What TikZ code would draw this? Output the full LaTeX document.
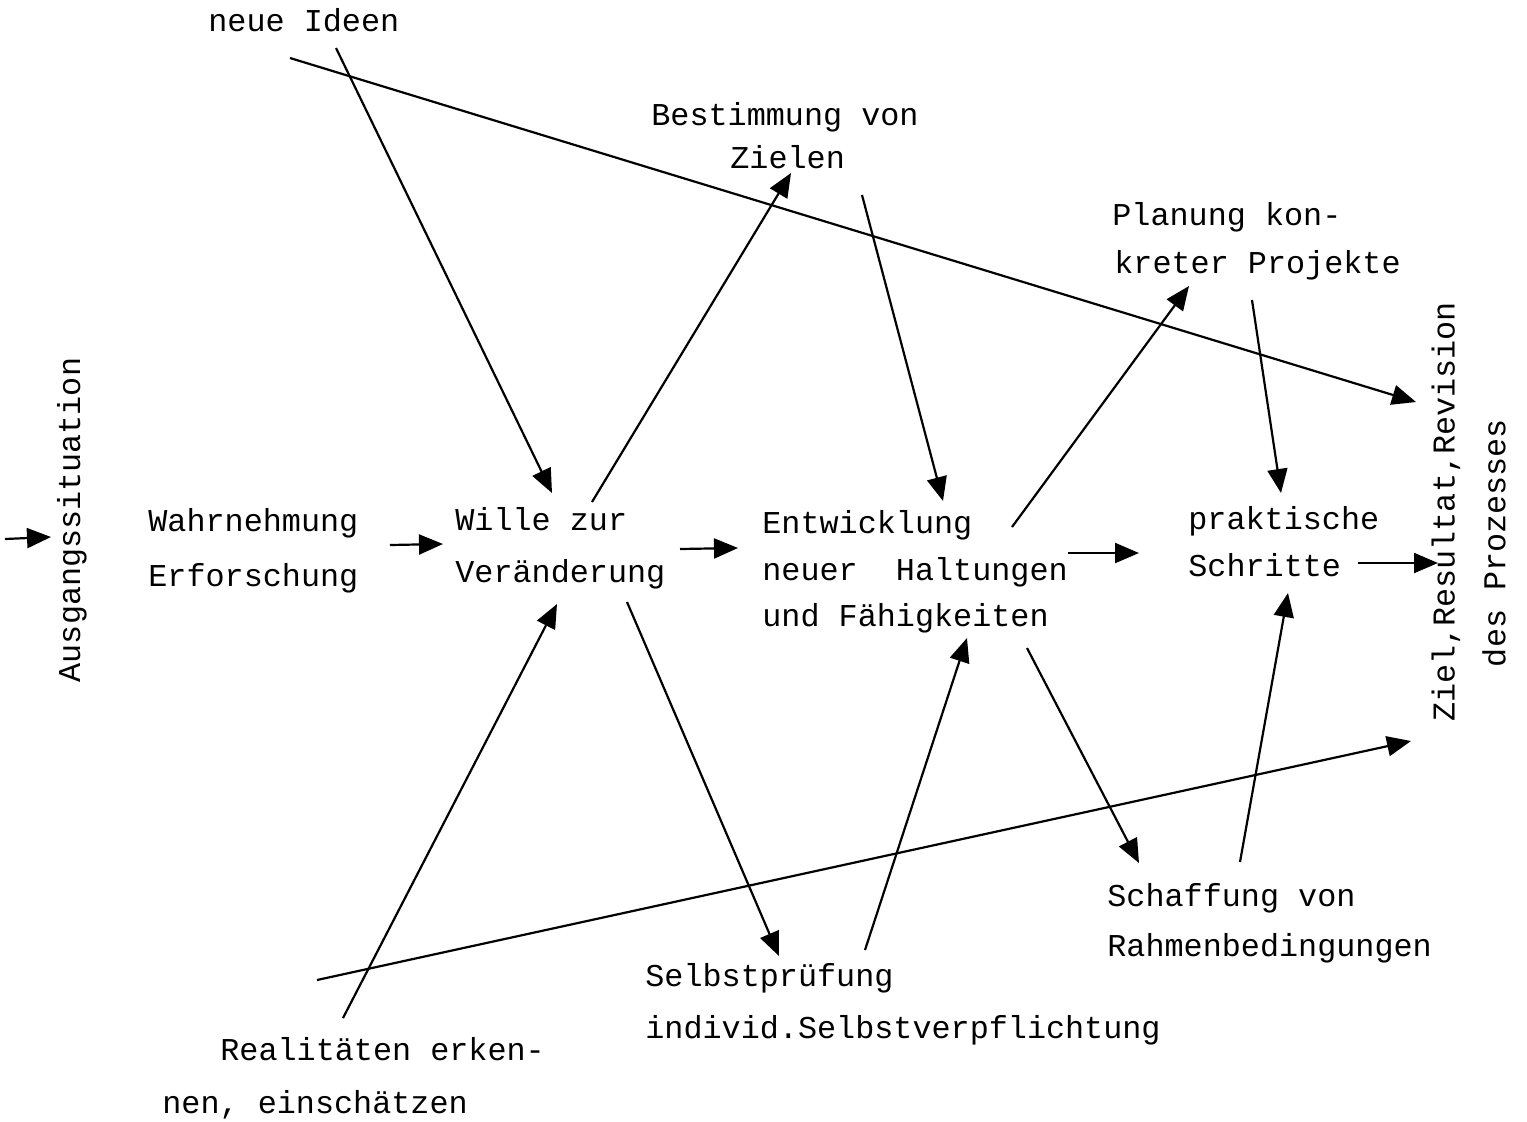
\documentclass[tikz,border=0pt]{standalone}
\usepackage{fontspec}
\setmainfont{Liberation Mono}
\usetikzlibrary{arrows.meta}
\begin{document}
\begin{tikzpicture}[x=0.5pt,y=-0.5pt,
  lbl/.style={inner sep=0pt,font=\fontsize{15.9}{26}\selectfont,anchor=base west},
  arr/.style={line width=1.1pt,-{Triangle[length=12pt,width=10pt]}},
  ln/.style={line width=1.1pt}]
\useasboundingbox (0,0) rectangle (1527,1121);
% texts
\node[lbl] (ideen) at (208,31) {neue Ideen};
\node[lbl] (best1) at (651,125) {Bestimmung von};
\node[lbl] (best2) at (730,168) {Zielen};
\node[lbl] (plan1) at (1112,225) {Planung kon-};
\node[lbl] (plan2) at (1114,273) {kreter Projekte};
\node[lbl] (wahr1) at (148,531) {Wahrnehmung};
\node[lbl] (wahr2) at (148,586) {Erforschung};
\node[lbl] (will1) at (455,530) {Wille zur};
\node[lbl] (will2) at (455,582) {Veränderung};
\node[lbl] (entw1) at (762,533) {Entwicklung};
\node[lbl] (entw2) at (762,580) {neuer~~Haltungen};
\node[lbl] (entw3) at (762,626) {und Fähigkeiten};
\node[lbl] (prak1) at (1188,529) {praktische};
\node[lbl] (prak2) at (1188,576) {Schritte};
\node[lbl] (scha1) at (1107,906) {Schaffung von};
\node[lbl] (scha2) at (1107,956) {Rahmenbedingungen};
\node[lbl] (selb1) at (645,986) {Selbstprüfung};
\node[lbl] (selb2) at (645,1038) {individ.Selbstverpflichtung};
\node[lbl] (real1) at (220,1060) {Realitäten erken-};
\node[lbl] (real2) at (162,1113) {nen, einschätzen};
\node[inner sep=0pt,font=\fontsize{15.9}{26}\selectfont,rotate=90] (ausg) at (72,520) {Ausgangssituation};
\node[inner sep=0pt,font=\fontsize{15.9}{26}\selectfont,rotate=90] (ziel1) at (1446,512) {Ziel,Resultat,Revision};
\node[inner sep=0pt,font=\fontsize{15.9}{26}\selectfont,rotate=90] (ziel2) at (1494,543) {des Prozesses};
% endpoints
\coordinate (a1s) at (290,58);   \coordinate (a1e) at (1416,402);
\coordinate (a2s) at (336,48);   \coordinate (a2e) at (552,493);
\coordinate (a3s) at (592,502);  \coordinate (a3e) at (791,173);
\coordinate (a4s) at (862,195);  \coordinate (a4e) at (943,501);
\coordinate (a5s) at (1012,527); \coordinate (a5e) at (1189,286);
\coordinate (a6s) at (1252,300); \coordinate (a6e) at (1281,493);
\coordinate (a7s) at (390,545);  \coordinate (a7e) at (443,544);
\coordinate (a8s) at (680,549);  \coordinate (a8e) at (738,548);
\coordinate (a9s) at (1068,553); \coordinate (a9e) at (1139,553);
\coordinate (a10s) at (1358,563); \coordinate (a10e) at (1438,563);
\coordinate (a11s) at (5,539);   \coordinate (a11e) at (51,537);
\coordinate (a12s) at (343,1018); \coordinate (a12e) at (557,604);
\coordinate (a13s) at (627,602); \coordinate (a13e) at (779,956);
\coordinate (a14s) at (865,950); \coordinate (a14e) at (967,638);
\coordinate (a15s) at (1027,648); \coordinate (a15e) at (1139,863);
\coordinate (a16s) at (1240,862); \coordinate (a16e) at (1288,593);
\coordinate (a17s) at (317,980); \coordinate (a17e) at (1411,741);
\foreach \i in {1,...,17} {\draw[arr] (a\i s) -- (a\i e);}
\end{tikzpicture}
\end{document}
